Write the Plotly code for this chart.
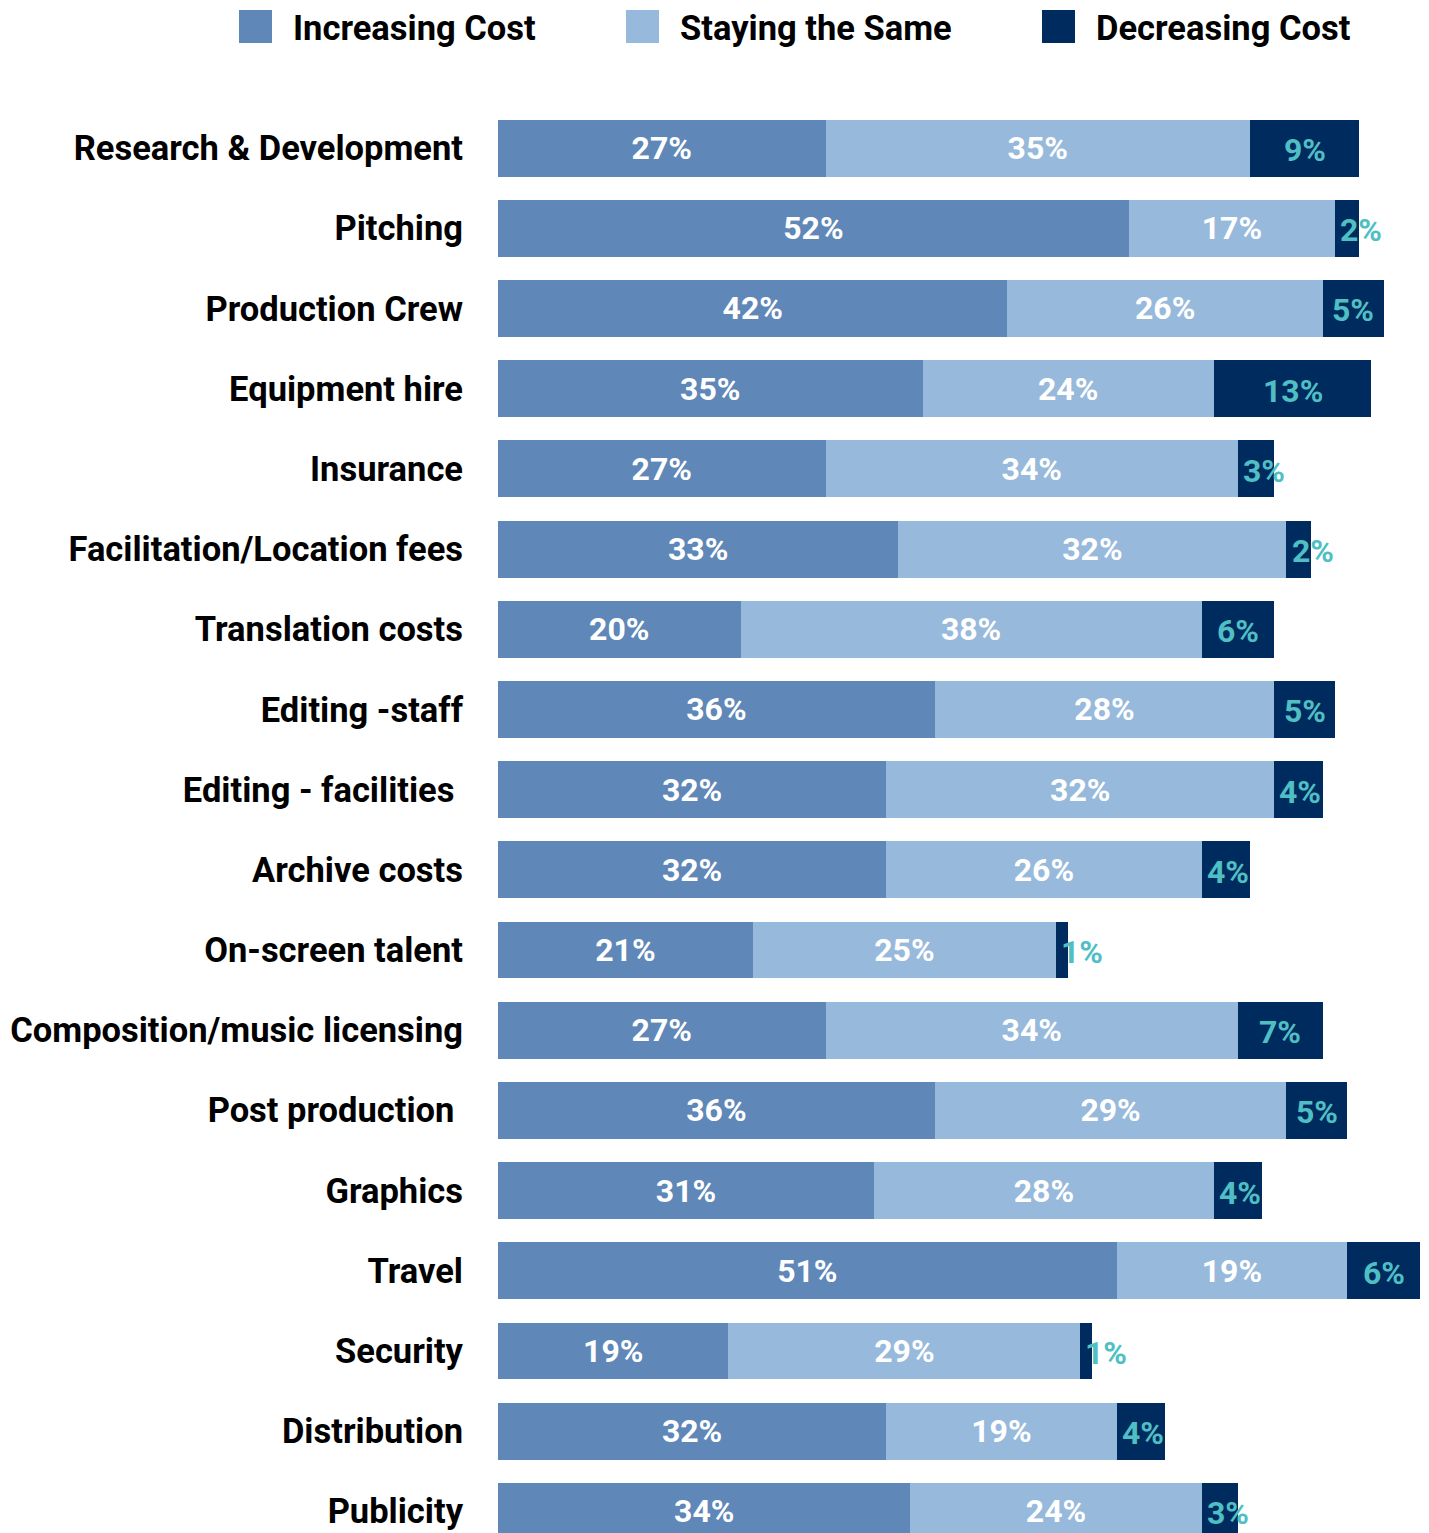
import plotly.graph_objects as go

categories = ["Research & Development", "Pitching", "Production Crew", "Equipment hire",
              "Insurance", "Facilitation/Location fees", "Translation costs", "Editing -staff",
              "Editing - facilities ", "Archive costs", "On-screen talent",
              "Composition/music licensing", "Post production ", "Graphics", "Travel",
              "Security", "Distribution", "Publicity"]
increasing = [27, 52, 42, 35, 27, 33, 20, 36, 32, 32, 21, 27, 36, 31, 51, 19, 32, 34]
same = [35, 17, 26, 24, 34, 32, 38, 28, 32, 26, 25, 34, 29, 28, 19, 29, 19, 24]
decreasing = [9, 2, 5, 13, 3, 2, 6, 5, 4, 4, 1, 7, 5, 4, 6, 1, 4, 3]
series_names = ["Increasing Cost", "Staying the Same", "Decreasing Cost"]
colors = ["#5f87b8", "#97b9db", "#002b5e"]
label_teal = "#4fbfc4"

FONT = "Roboto"
# the page body has an 8px margin, so the figure is a little smaller than the window
W, H = 1421, 1525
L, T = 490, 92

fig = go.Figure()
for vals, name, col in zip([increasing, same], series_names[:2], colors[:2]):
    fig.add_bar(y=categories, x=vals, orientation="h", name=name, marker_color=col,
                marker_line_width=0, text=[f"{v}%" for v in vals], textposition="inside",
                insidetextanchor="middle", textangle=0,
                textfont=dict(family=FONT, size=32, color="white", weight="bold"))
fig.add_bar(y=categories, x=decreasing, orientation="h", name=series_names[2],
            marker_color=colors[2], marker_line_width=0)

# labels for the dark segment: centred if they fit, else just past the segment start
starts = [a + b for a, b in zip(increasing, same)]
for cat, s, d in zip(categories, starts, decreasing):
    fig.add_annotation(x=s + max(d / 2, 2.15), y=cat, text=f"{d}%", showarrow=False,
                       xanchor="center", yanchor="middle", yshift=-2,
                       font=dict(family=FONT, size=32, color=label_teal, weight="bold"))

# legend drawn by hand (bar legend swatches in plotly are fixed and tiny)
leg_x = [231, 618, 1034]
pw, ph = W - L, H - T
for lx, name, col in zip(leg_x, series_names, colors):
    fig.add_shape(type="rect", xref="paper", yref="paper",
                  x0=(lx - L) / pw, x1=(lx + 33 - L) / pw,
                  y0=1 + (T - 35) / ph, y1=1 + (T - 2) / ph,
                  fillcolor=col, line_width=0)
    fig.add_annotation(text=name, xref="paper", yref="paper", showarrow=False,
                       x=(lx + 52 - L) / pw, y=1 + (T - 20) / ph,
                       xanchor="left", yanchor="middle",
                       font=dict(family=FONT, size=34.5, color="black", weight="bold"))

fig.update_layout(
    barmode="stack", bargap=0.29, showlegend=False,
    width=W, height=H,
    margin=dict(l=L, r=0, t=T, b=0),
    plot_bgcolor="white", paper_bgcolor="white",
    font=dict(family=FONT),
)
fig.update_xaxes(range=[0, 76.75], visible=False)
fig.update_yaxes(range=[17.27, -0.6], showgrid=False, ticks="", showline=False,
                 ticklabelstandoff=34,
                 tickfont=dict(family=FONT, size=34.5, color="black", weight="bold"))
fig.write_html("out.html")
